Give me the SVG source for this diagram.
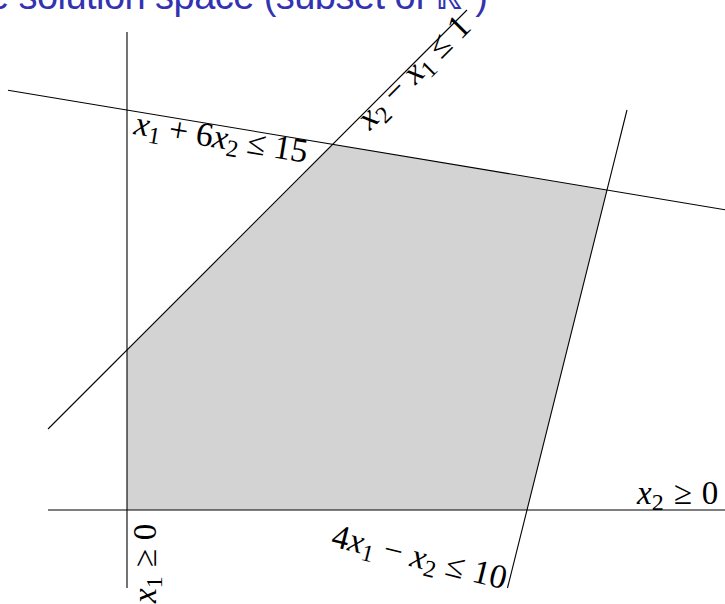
<svg xmlns="http://www.w3.org/2000/svg" width="725" height="604" viewBox="0 0 725 604">
<style>
.ln{stroke:#000;stroke-width:1.1;fill:none}
.m{font-family:"Liberation Serif","Times New Roman",serif;font-size:34px;fill:#000}
.i{font-style:italic}
.s{font-size:24px}
.t{font-family:"Liberation Sans",Arial,sans-serif;font-size:38px;fill:#3333b2}
</style>
<rect width="725" height="604" fill="#fff"/>
<g id="title"><text class="t" x="-12" y="9" textLength="500" lengthAdjust="spacing">e solution space (subset of ℝ<tspan font-size="26" dy="-10">2</tspan><tspan dy="10">)</tspan></text></g>
<g id="region"><polygon points="127,510 127,350 332.7,144.3 607,190 527,510" fill="#d3d3d3"/></g>
<g id="connectors">
<line class="ln" x1="127" y1="32" x2="127" y2="588"/>
<line class="ln" x1="48" y1="510" x2="725" y2="510"/>
<line class="ln" x1="8" y1="90.2" x2="725" y2="209.7" stroke="#333"/>
<line class="ln" x1="48" y1="429" x2="467" y2="10"/>
<line class="ln" x1="627" y1="110" x2="507.5" y2="588"/>
</g>
<g id="label-c1"><text class="m" transform="translate(133,134) rotate(9.46)"><tspan class="i">x</tspan><tspan class="s" dy="6">1</tspan><tspan dy="-6" dx="8">+</tspan><tspan dx="8">6</tspan><tspan class="i">x</tspan><tspan class="s" dy="6">2</tspan><tspan dy="-6" dx="8">≤</tspan><tspan dx="8">15</tspan></text></g>
<g id="label-c2"><text class="m" transform="translate(370,131) rotate(-45)"><tspan class="i">x</tspan><tspan class="s" dy="6">2</tspan><tspan dy="-6" dx="9">−</tspan><tspan dx="9" class="i">x</tspan><tspan class="s" dy="6">1</tspan><tspan dy="-6" dx="9">≤</tspan><tspan dx="9">1</tspan></text></g>
<g id="label-c3"><text class="m" transform="translate(330,546) rotate(14.04)"><tspan>4</tspan><tspan class="i">x</tspan><tspan class="s" dy="6">1</tspan><tspan dy="-6" dx="9">−</tspan><tspan dx="9" class="i">x</tspan><tspan class="s" dy="6">2</tspan><tspan dy="-6" dx="9">≤</tspan><tspan dx="9">10</tspan></text></g>
<g id="label-x1"><text class="m" style="font-size:33px" transform="translate(156,603) rotate(-90)"><tspan class="i">x</tspan><tspan class="s" dy="6">1</tspan><tspan dy="-6" dx="9">≥</tspan><tspan dx="9">0</tspan></text></g>
<g id="label-x2"><text class="m" style="font-size:33px" transform="translate(637,504)"><tspan class="i">x</tspan><tspan class="s" dy="6">2</tspan><tspan dy="-6" dx="10">≥</tspan><tspan dx="10">0</tspan></text></g>
</svg>
